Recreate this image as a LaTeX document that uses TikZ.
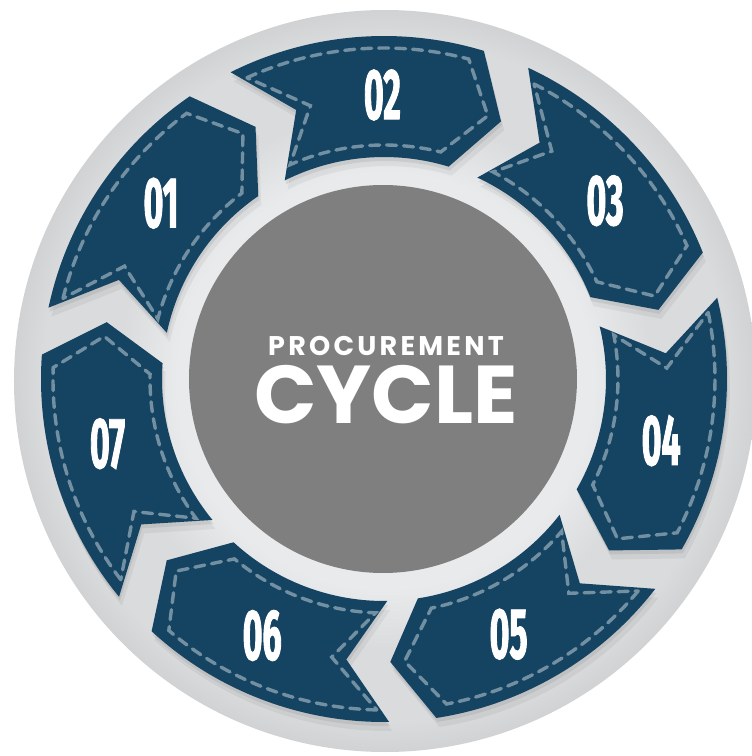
\documentclass[tikz,border=0pt]{standalone}
\usepackage{fontspec}
\setmainfont{Poppins}
\newfontfamily\numfont[FakeStretch=0.47, FakeBold=1.2]{Fira Sans}
\usepackage{xcolor}
\usetikzlibrary{positioning}

\definecolor{segblue}{HTML}{154462}
\definecolor{stitchblue}{HTML}{7390A2}
\definecolor{discgray}{HTML}{7F7F7F}
\definecolor{halo}{HTML}{E9EAEC}
\definecolor{ringmid}{HTML}{DADBDD}
\definecolor{ringedge}{HTML}{D1D2D4}

\pgfdeclareradialshading{ringshade}{\pgfpointorigin}{color(0bp)=(halo); color(14bp)=(halo); color(18bp)=(ringmid); color(23bp)=(ringmid); color(25bp)=(ringedge); color(50bp)=(ringedge)}

% radii of the arrow band
\def\Ro{343}
\def\Ri{222}
\def\Rm{283}

% outline of one arrow, #1 = angle of its tail
\newcommand\arrowoutline[1]{
  (#1:\Ro) arc[start angle=#1, end angle=#1-43.5, radius=\Ro]
  -- ({#1-51}:\Rm) -- ({#1-43.5}:\Ri)
  arc[start angle=#1-43.5, end angle=#1, radius=\Ri]
  -- ({#1-8.5}:\Rm) -- cycle}
% stitching, set in from the outline
\newcommand\stitchoutline[1]{
  ({#1-2.1}:331) arc[start angle=#1-2.1, end angle=#1-41.4, radius=331]
  -- ({#1-48.1}:\Rm) -- ({#1-40.6}:234)
  arc[start angle=#1-40.6, end angle=#1-2.9, radius=234]
  -- ({#1-11.5}:\Rm) -- cycle}

\begin{document}
\begin{tikzpicture}[x=1pt, y=1pt,
  segment/.style={fill=segblue},
  stitch/.style={draw=stitchblue, line width=3.4pt, dash pattern=on 10pt off 7pt, line cap=round},
  numlabel/.style={text=white, font=\numfont\bfseries\fontsize{72}{72}\selectfont},
  smalltitle/.style={text=white, font=\addfontfeature{LetterSpace=12}\fontsize{27}{27}\selectfont\bfseries, inner sep=0pt},
  bigtitle/.style={text=white, font=\fontsize{82}{82}\selectfont\bfseries, inner sep=0pt}]
  \useasboundingbox (-384,-377) rectangle (368,379);
  \clip (-384,-377) rectangle (368,379);

  % grey plate
  \shade[shading=ringshade] (1,-2) circle[radius=371];

  % soft shadows first
  \foreach \i in {0,...,6} {
    \pgfmathsetmacro\tail{168-51.43*\i}
    \fill[black, opacity=0.07, shift={(1,-4)}] \arrowoutline{\tail};
    \fill[black, opacity=0.05, shift={(3,-9)}] \arrowoutline{\tail};
  }

  % arrows with their numbers
  \foreach \num [count=\i from 0] in {01,02,03,04,05,06,07} {
    \pgfmathsetmacro\tail{168-51.43*\i}
    \fill[segment] \arrowoutline{\tail};
    \draw[stitch] \stitchoutline{\tail};
    \node[numlabel] (step\num) at ({\tail-26.25}:284) {\num};
  }

  % centre disc
  \fill[discgray] (-1,0) circle[radius=194];
  \node[smalltitle] (proc) at (2,33) {PROCUREMENT};
  \node[bigtitle, below=9pt of proc] (cycle) {CYCLE};
\end{tikzpicture}
\end{document}
